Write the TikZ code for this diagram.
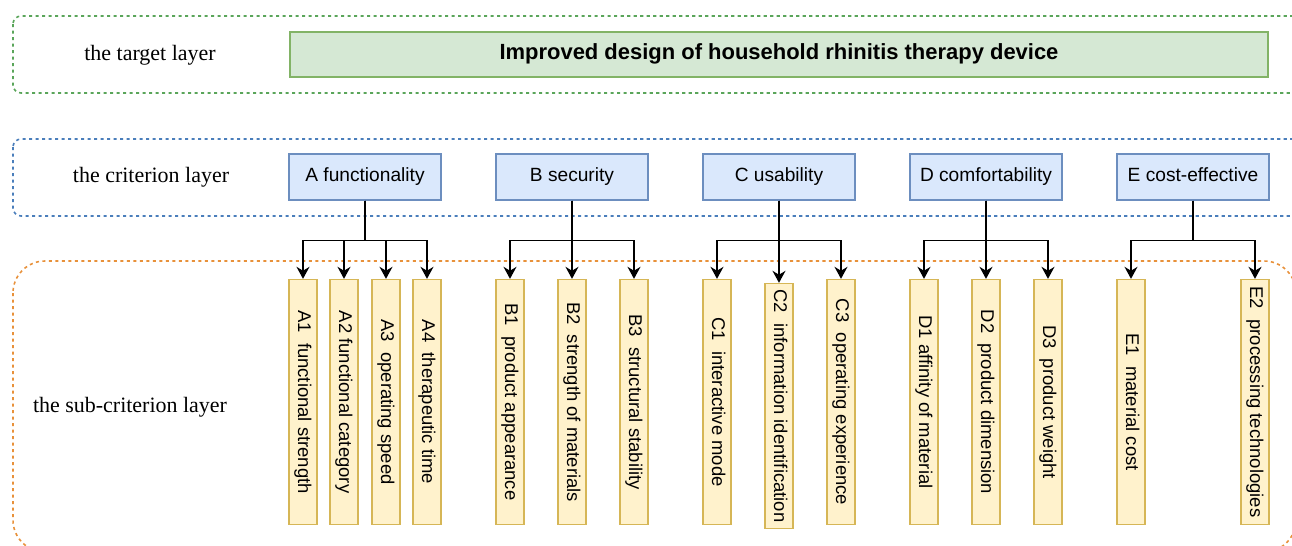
\documentclass[tikz,border=0pt]{standalone}
\usepackage{fontspec}
\setmainfont{Liberation Serif}
\setsansfont{Liberation Sans}
\usetikzlibrary{arrows.meta,positioning}

\definecolor{goalfill}{HTML}{D5E8D4}
\definecolor{goalline}{HTML}{82B366}
\definecolor{critfill}{HTML}{DAE8FC}
\definecolor{critline}{HTML}{6C8EBF}
\definecolor{subfill}{HTML}{FFF2CC}
\definecolor{subline}{HTML}{D6B656}
\definecolor{laygreen}{HTML}{5AA55A}
\definecolor{layblue}{HTML}{4A7EBB}
\definecolor{layorange}{HTML}{E8913A}

\begin{document}
\begin{tikzpicture}[x=0.02cm,y=-0.02cm,
	layer/.style={line width=0.9pt,dash pattern=on 1.8pt off 1.9pt},
	laylabel/.style={font=\fontsize{12.5}{15}\selectfont},
	goal/.style={draw=goalline,fill=goalfill,line width=0.8pt,minimum width=19.56cm,minimum height=0.9cm,text height=1.6ex,text depth=0.4ex,font=\sffamily\bfseries\fontsize{12.5}{15}\selectfont},
	crit/.style={draw=critline,fill=critfill,line width=0.8pt,minimum width=3.04cm,minimum height=0.92cm,text height=1.6ex,text depth=0.4ex,font=\sffamily\fontsize{10.9}{13}\selectfont},
	sub/.style={draw=subline,fill=subfill,line width=0.8pt,rotate=-90,minimum width=4.9cm,minimum height=0.56cm,inner sep=1pt,text height=1.6ex,text depth=0.4ex,font=\sffamily\fontsize{10.5}{12}\selectfont},
	arr/.style={-{Stealth[length=2.4mm,width=2.6mm]},line width=0.8pt}]

	\clip (0,0) rectangle (1292,545);

	% the three layers
	\draw[layer,draw=laygreen,rounded corners=0.16cm] (13,16) rectangle (1320,93);
	\draw[layer,draw=layblue,rounded corners=0.16cm] (13,139) rectangle (1320,216);
	\draw[layer,draw=layorange,rounded corners=0.64cm] (13,261) rectangle (1296,552);

	\node[laylabel] (lt) at (150,55) {the target layer};
	\node[laylabel] (lc) at (151,177) {the criterion layer};
	\node[laylabel] (ls) at (130,407) {the sub-criterion layer};

	\node[goal] (goal) at (779,54.5) {Improved design of household rhinitis therapy device};

	\foreach \n/\x/\t in {A/365/A functionality,B/572/B security,C/779/C usability,D/986/D comfortability,E/1193/E cost-effective}
		\node[crit] (\n) at (\x,177) {\t};

	\foreach \n/\x/\y/\t in {
		A1/303/402/{A1~~functional strength},
		A2/344/402/{A2 functional category},
		A3/386/402/{A3~~operating speed},
		A4/427/402/{A4~~therapeutic time},
		B1/510/402/{B1~~product appearance},
		B2/572/402/{B2~~strength of materials},
		B3/634/402/{B3~~structural stability},
		C1/717/402/{C1~~interactive mode},
		C2/779/406/{C2~~information identification},
		C3/841/402/{C3~~operating experience},
		D1/924/402/{D1 affinity of material},
		D2/986/402/{D2~~product dimension},
		D3/1048/402/{D3~~product weight},
		E1/1131/402/{E1~~material cost},
		E2/1255/402/{E2~~processing technologies}}
		\node[sub] (\n) at (\x,\y) {\t};

	% criterion -> sub-criteria
	\foreach \c/\subs in {A/{A1,A2,A3,A4},B/{B1,B2,B3},C/{C1,C2,C3},D/{D1,D2,D3},E/{E1,E2}}
		\foreach \s in \subs
			\draw[arr] (\c.south) -- ++(0,40) -| (\s.west);

\end{tikzpicture}
\end{document}
